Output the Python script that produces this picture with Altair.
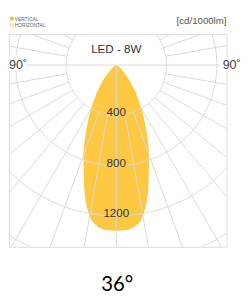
import numpy as np
import pandas as pd
import altair as alt

# ---- data ----
# vertical-plane intensity curve, symmetric about nadir, cd/1000lm
angles = [0, 5, 10, 15, 20, 25, 30, 35, 40, 45, 50, 60, 70, 90]
cd_values = [1320, 1310, 1220, 990, 760, 560, 400, 270, 180, 100, 60, 20, 5, 0]

ring_values = [400, 800, 1200, 1600]
ring_labels = ["400", "800", "1200"]
spoke_angles = list(range(0, 360, 10))

title_text = "LED - 8W"
unit_text = "[cd/1000lm]"
beam_text = "36°"
legend_items = ["VERTICAL", "HORIZONTAL"]
legend_colors = ["#F7B92F", "#FCE4A6"]
side_label = "90˚"

FILL = "#FDC943"
GRID = "#d9d9d9"
TXT = "#333333"

# ---- build tables ----
rad = np.radians(angles)
cdv = np.array(cd_values, dtype=float)
curve = pd.DataFrame({
    "y": -cdv * np.cos(rad),
    "x": cdv * np.sin(rad),
    "x2": -cdv * np.sin(rad),
}).drop_duplicates("y").sort_values("y")

ring_rows = []
for r in ring_values:
    for i, a in enumerate(range(0, 361, 2)):
        t = np.radians(a)
        ring_rows.append({"ring": r, "i": i, "x": r * np.sin(t), "y": -r * np.cos(t)})
rings = pd.DataFrame(ring_rows)

spoke_rows = []
for a in spoke_angles:
    t = np.radians(a)
    r0 = 0 if a in (0, 90, 270) else ring_values[0]
    r1 = 3000
    spoke_rows.append({"x": r0 * np.sin(t), "y": -r0 * np.cos(t),
                       "x2": r1 * np.sin(t), "y2": -r1 * np.cos(t)})
spokes = pd.DataFrame(spoke_rows)

labels = pd.DataFrame({"y": [-v for v in ring_values[:3]], "x": [0] * 3, "t": ring_labels})

# ---- scales: 0.13 px per cd, view = the framed box ----
W, H = 225, 220
PX = 0.13
cx, cy = 111, 32
xs = alt.Scale(domain=[-cx / PX, (W - cx) / PX], nice=False, zero=False)
ys = alt.Scale(domain=[-(H - cy) / PX, cy / PX], nice=False, zero=False)

area = alt.Chart(curve).mark_area(orient="horizontal", color=FILL, interpolate="monotone").encode(
    y=alt.Y("y:Q", scale=ys, axis=None),
    x=alt.X("x:Q", scale=xs, axis=None),
    x2="x2:Q",
)

ring_layer = alt.Chart(rings).mark_line(color=GRID, strokeWidth=1, clip=True).encode(
    x=alt.X("x:Q", scale=xs, axis=None),
    y=alt.Y("y:Q", scale=ys, axis=None),
    detail="ring:N",
    order="i:Q",
)

spoke_layer = alt.Chart(spokes).mark_rule(color=GRID, strokeWidth=1, clip=True).encode(
    x=alt.X("x:Q", scale=xs, axis=None),
    y=alt.Y("y:Q", scale=ys, axis=None),
    x2="x2:Q",
    y2="y2:Q",
)

ring_text = alt.Chart(labels).mark_text(font="Liberation Sans", fontSize=12, color=TXT,
                                        baseline="alphabetic", dy=1).encode(
    x=alt.X("x:Q", scale=xs, axis=None),
    y=alt.Y("y:Q", scale=ys, axis=None),
    text="t:N",
)

one = pd.DataFrame({"t": [title_text]})
title_layer = alt.Chart(one).mark_text(font="Liberation Sans", fontSize=12, color=TXT).encode(
    x=alt.value(111), y=alt.value(16), text="t:N")

unit_layer = alt.Chart(pd.DataFrame({"t": [unit_text]})).mark_text(
    font="Liberation Sans", fontSize=10, color="#555555", align="right").encode(
    x=alt.value(225), y=alt.value(-13), text="t:N")

beam_layer = alt.Chart(pd.DataFrame({"t": [beam_text]})).mark_text(
    font="Lato", fontSize=21, color="#000000").encode(
    x=alt.value(112), y=alt.value(260), text="t:N")

side = pd.DataFrame({"t": [side_label, side_label], "px": [0, 221]})
side_halo = alt.Chart(side).mark_text(font="Liberation Sans", fontSize=13, color="white",
                                      stroke="white", strokeWidth=6, align="left").encode(
    x=alt.X("px:Q", scale=None), y=alt.value(32), text="t:N")
side_text = alt.Chart(side).mark_text(font="Liberation Sans", fontSize=13, color="#444444",
                                      align="left").encode(
    x=alt.X("px:Q", scale=None), y=alt.value(32), text="t:N")

leg = pd.DataFrame({"t": legend_items, "c": legend_colors, "py": [-16, -9]})
leg_dots = alt.Chart(leg).mark_circle(size=18, opacity=1).encode(
    x=alt.value(3), y=alt.Y("py:Q", scale=None),
    color=alt.Color("c:N", scale=None))
leg_text = alt.Chart(leg).mark_text(font="Liberation Sans", fontSize=5, color="#666666",
                                    align="left").encode(
    x=alt.value(6), y=alt.Y("py:Q", scale=None), text="t:N")

chart = alt.layer(
    area, ring_layer, spoke_layer, ring_text, title_layer, unit_layer, beam_layer,
    side_halo, side_text, leg_dots, leg_text
).properties(
    width=W, height=H,
    autosize=alt.AutoSizeParams(type="none"),
    padding={"left": 1, "top": 22, "right": 15, "bottom": 50},
).configure_view(stroke="#dddddd", strokeWidth=1)

chart.save("out.html", embed_options={"renderer": "svg", "actions": False})
